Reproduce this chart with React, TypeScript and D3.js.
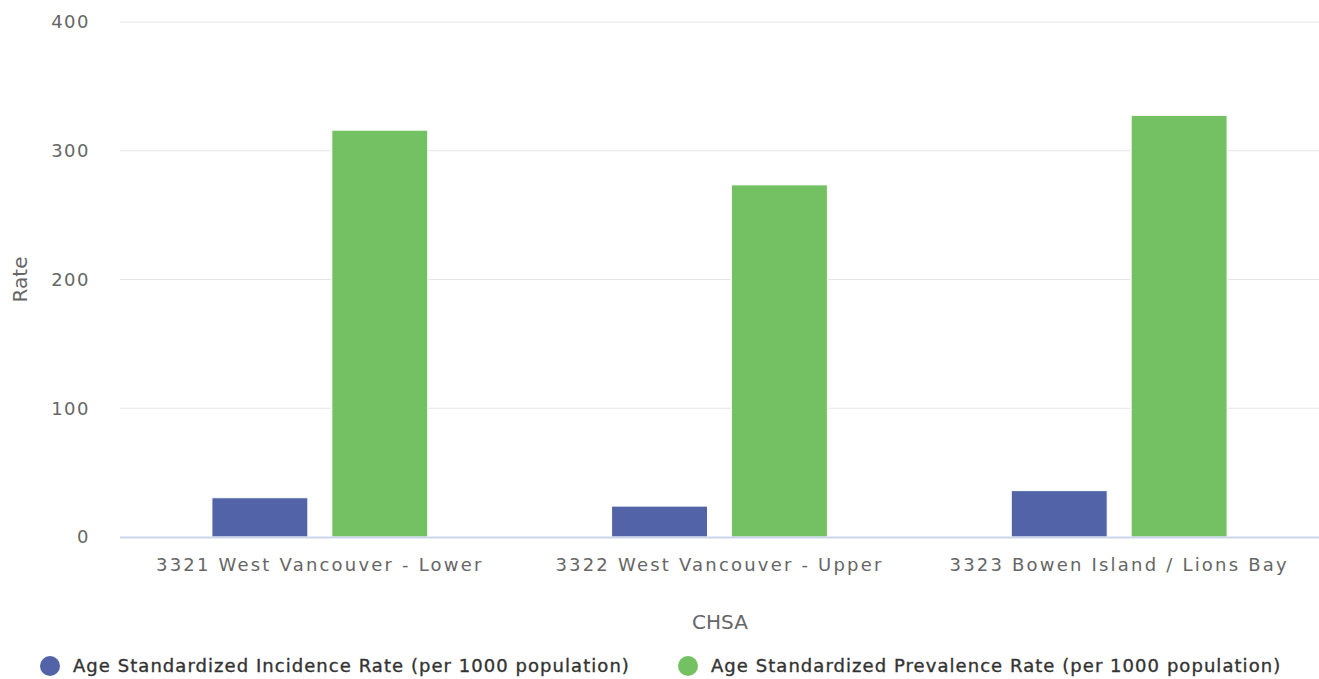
import React from "react";
import * as d3 from "d3";

const categories = [
  "3321 West Vancouver - Lower",
  "3322 West Vancouver - Upper",
  "3323 Bowen Island / Lions Bay",
];
const incidence = [30.5, 24, 36];
const prevalence = [316, 273.5, 327.5];
const yTicks = [0, 100, 200, 300, 400];
const seriesNames = [
  "Age Standardized Incidence Rate (per 1000 population)",
  "Age Standardized Prevalence Rate (per 1000 population)",
];
const colors = ["#5363a7", "#73c163"];

const W = 1319;
const H = 679;
const margin = { top: 22, right: 0, bottom: 142, left: 120 };
const font = "'DejaVu Sans', Verdana, sans-serif";

export default function App() {
  const innerW = W - margin.left - margin.right;
  const innerH = H - margin.top - margin.bottom;

  // highcharts style: groupPadding 0.2 on each side of a category
  const catW = innerW / categories.length;
  const x1 = d3
    .scaleBand()
    .domain(["0", "1"])
    .range([catW * 0.2, catW * 0.8])
    .paddingInner(0.2)
    .paddingOuter(0.1);
  const y = d3.scaleLinear().domain([0, 400]).range([innerH, 0]);
  const series = [incidence, prevalence];

  return (
    <svg width={W} height={H} style={{ position: "absolute", left: 0, top: 0, fontFamily: font }}>
      <g transform={`translate(${margin.left},${margin.top})`}>
        {yTicks.map((t) => (
          <g key={t}>
            {t > 0 && <line x1={0} x2={innerW} y1={y(t)} y2={y(t)} stroke="#e6e6e6" />}
            <text x={-30} y={y(t)} dy="0.35em" textAnchor="end" fontSize={18} fill="#666" letterSpacing={1.5}>
              {t}
            </text>
          </g>
        ))}
        {categories.map((c, i) => (
          <g key={c} transform={`translate(${i * catW},0)`}>
            {series.map((s, j) => (
              <rect
                key={j}
                x={x1(String(j))}
                width={x1.bandwidth()}
                y={y(s[i])}
                height={innerH - y(s[i])}
                fill={colors[j]}
                stroke="#fff"
                strokeWidth={1}
              />
            ))}
            <text x={catW / 2} y={innerH + 34} textAnchor="middle" fontSize={18} fill="#666" letterSpacing={2.2}>
              {c}
            </text>
          </g>
        ))}
        <line x1={0} x2={innerW} y1={innerH + 0.5} y2={innerH + 0.5} stroke="#ccd6eb" strokeWidth={2} />
        <text
          transform={`translate(${-100},${innerH / 2}) rotate(-90)`}
          textAnchor="middle"
          fontSize={20}
          fill="#666"
          dy="0.35em"
        >
          Rate
        </text>
        <text x={600} y={innerH + 92} textAnchor="middle" fontSize={20} fill="#666">
          CHSA
        </text>
      </g>
      {seriesNames.map((n, j) => (
        <g key={n} transform={`translate(${j === 0 ? 50 : 688},666)`}>
          <circle r={10} fill={colors[j]} />
          <text x={23} dy="0.35em" fontSize={18} fill="#333" stroke="#333" strokeWidth={0.35} letterSpacing={1.05}>
            {n}
          </text>
        </g>
      ))}
    </svg>
  );
}
